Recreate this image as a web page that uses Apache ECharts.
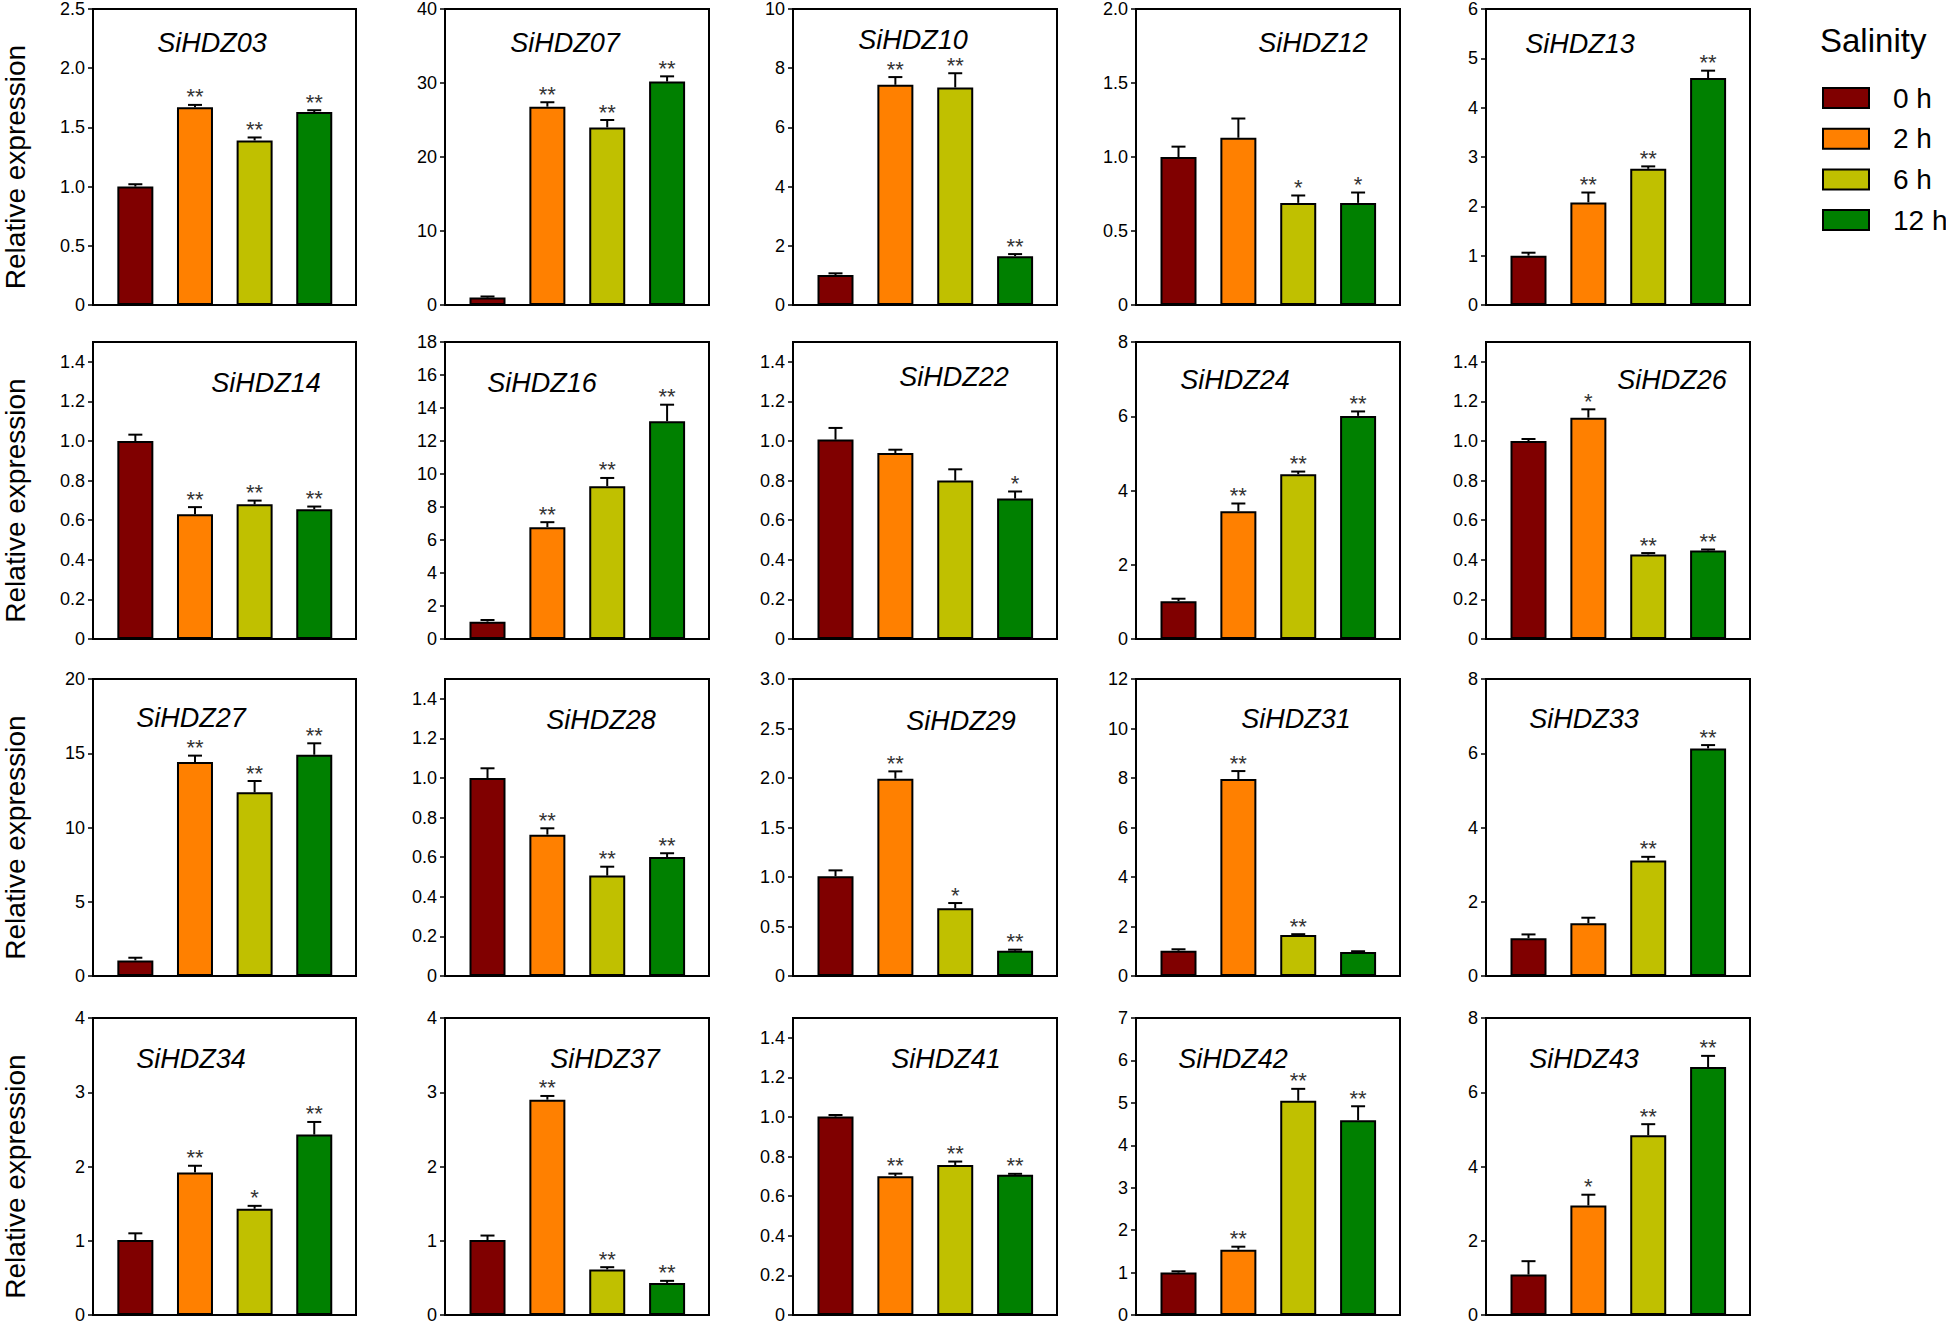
<!DOCTYPE html>
<html><head><meta charset="utf-8">
<script src="https://cdn.jsdelivr.net/npm/echarts@6/dist/echarts.min.js"></script>
<style>html,body{margin:0;padding:0;background:#fff}#c{width:1946px;height:1324px}</style>
</head><body><div id="c"></div>
<script>
// ---------- data ----------
const timePoints = ['0 h', '2 h', '6 h', '12 h'];
const genes = ['SiHDZ03','SiHDZ07','SiHDZ10','SiHDZ12','SiHDZ13',
               'SiHDZ14','SiHDZ16','SiHDZ22','SiHDZ24','SiHDZ26',
               'SiHDZ27','SiHDZ28','SiHDZ29','SiHDZ31','SiHDZ33',
               'SiHDZ34','SiHDZ37','SiHDZ41','SiHDZ42','SiHDZ43'];
const means = [
  [1.00, 1.67, 1.39, 1.63],
  [1.00, 26.8, 24.0, 30.2],
  [1.01, 7.44, 7.35, 1.65],
  [1.00, 1.13, 0.69, 0.69],
  [1.00, 2.08, 2.76, 4.60],
  [1.00, 0.63, 0.68, 0.655],
  [1.05, 6.78, 9.26, 13.2],
  [1.007, 0.939, 0.80, 0.709],
  [1.02, 3.44, 4.44, 6.01],
  [1.00, 1.118, 0.427, 0.447],
  [1.05, 14.41, 12.37, 14.9],
  [1.00, 0.714, 0.507, 0.601],
  [1.007, 1.993, 0.684, 0.256],
  [1.02, 7.96, 1.66, 0.97],
  [1.02, 1.42, 3.11, 6.13],
  [1.01, 1.92, 1.43, 2.43],
  [1.01, 2.90, 0.613, 0.432],
  [1.002, 0.701, 0.757, 0.708],
  [1.00, 1.54, 5.05, 4.59],
  [1.09, 2.95, 4.84, 6.68]
];
const errors = [
  [0.02, 0.02, 0.025, 0.015],
  [0.15, 0.6, 1.0, 0.7],
  [0.06, 0.26, 0.48, 0.07],
  [0.07, 0.13, 0.05, 0.07],
  [0.06, 0.20, 0.05, 0.15],
  [0.032, 0.036, 0.019, 0.014],
  [0.10, 0.30, 0.50, 1.0],
  [0.059, 0.017, 0.057, 0.036],
  [0.065, 0.21, 0.07, 0.12],
  [0.01, 0.042, 0.007, 0.005],
  [0.18, 0.43, 0.76, 0.77],
  [0.049, 0.032, 0.045, 0.019],
  [0.06, 0.074, 0.053, 0.01],
  [0.06, 0.32, 0.03, 0.03],
  [0.10, 0.15, 0.10, 0.09],
  [0.09, 0.09, 0.04, 0.17],
  [0.06, 0.05, 0.031, 0.028],
  [0.008, 0.013, 0.018, 0.005],
  [0.03, 0.07, 0.28, 0.33],
  [0.36, 0.29, 0.30, 0.30]
];
const signif = [
  ['', '**', '**', '**'], ['', '**', '**', '**'], ['', '**', '**', '**'], ['', '', '*', '*'], ['', '**', '**', '**'],
  ['', '**', '**', '**'], ['', '**', '**', '**'], ['', '', '', '*'], ['', '**', '**', '**'], ['', '*', '**', '**'],
  ['', '**', '**', '**'], ['', '**', '**', '**'], ['', '**', '*', '**'], ['', '**', '**', ''], ['', '', '**', '**'],
  ['', '**', '*', '**'], ['', '**', '**', '**'], ['', '**', '**', '**'], ['', '**', '**', '**'], ['', '*', '**', '**']
];
const yMax = [2.5, 40, 10, 2.0, 6,
              1.5, 18, 1.5, 8, 1.5,
              20, 1.5, 3.0, 12, 8,
              4, 4, 1.5, 7, 8];
const yInterval = [0.5, 10, 2, 0.5, 1,
                   0.2, 2, 0.2, 2, 0.2,
                   5, 0.2, 0.5, 2, 2,
                   1, 1, 0.2, 1, 2];
const legendTitle = 'Salinity';
const yAxisTitle = 'Relative expression';

// ---------- layout / style ----------
const barColors = ['#800000', '#ff8000', '#c0c000', '#008000'];
const colLeft = [92, 445, 793, 1136, 1486];
const rowTop = [8, 342, 679, 1018];
const panelW = 264, panelH = 297;
const titleCx = [120, 120, 120, 177, 94,
                 174, 97, 161, 99, 186,
                 99, 156, 168, 160, 98,
                 99, 160, 153, 97, 98];
const titleDy = [35, 35, 32, 35, 36,
                 41, 41, 35, 38, 38,
                 39, 41, 42, 40, 40,
                 41, 41, 41, 41, 41];
const FONT = '"Liberation Sans", Arial, sans-serif';

function tickValues(max, step) {
  const out = [];
  const n = Math.floor(max / step + 1e-6);
  for (let i = 0; i <= n; i++) out.push(+(i * step).toFixed(4));
  return out;
}

const grid = [], xAxis = [], yAxis = [], series = [];
const title = [{
  text: legendTitle, left: 1820, top: 24, padding: 0,
  textStyle: {fontSize: 33, fontWeight: 'normal', color: '#000', fontFamily: FONT}
}];

genes.forEach((g, p) => {
  const r = Math.floor(p / 5), c = p % 5;
  grid.push({left: colLeft[c], top: rowTop[r], width: panelW, height: panelH,
             show: true, borderColor: '#000', borderWidth: 2, containLabel: false});
  xAxis.push({gridIndex: p, type: 'value', min: -0.71, max: 3.7, show: false});
  const dec = yInterval[p] < 1 ? 1 : 0;
  const ticks = tickValues(yMax[p], yInterval[p]);
  const ya = {
    gridIndex: p, type: 'value', min: 0, max: yMax[p], interval: yInterval[p],
    axisLine: {show: true, onZero: false, lineStyle: {color: '#000', width: 2}},
    axisTick: {show: true, length: 5, inside: false, customValues: ticks,
               lineStyle: {color: '#000', width: 1.5}},
    axisLabel: {customValues: ticks, color: '#000', fontSize: 18, fontFamily: FONT, margin: 8,
                formatter: v => (v === 0 ? '0' : v.toFixed(dec))},
    splitLine: {show: false}
  };
  if (c === 0) {
    ya.name = yAxisTitle;
    ya.nameLocation = 'middle';
    ya.nameRotate = 90;
    ya.nameGap = 64;
    ya.nameTextStyle = {fontSize: 28, color: '#000', fontFamily: FONT, padding: [0, 20, 0, 0]};
  }
  yAxis.push(ya);
  title.push({
    text: g, left: colLeft[c] + titleCx[p], top: rowTop[r] + titleDy[p],
    textAlign: 'center', textVerticalAlign: 'middle', padding: 0,
    textStyle: {fontSize: 27, fontStyle: 'italic', fontWeight: 'normal', color: '#000', fontFamily: FONT,
                lineHeight: 22}
  });
  timePoints.forEach((t, k) => {
    series.push({
      type: 'bar', name: t, xAxisIndex: p, yAxisIndex: p,
      data: [[k, means[p][k]]], barWidth: 36, barGap: '-100%',
      itemStyle: {color: barColors[k], borderColor: '#000', borderWidth: 2},
      silent: true, z: 2
    });
  });
  series.push({
    type: 'custom', xAxisIndex: p, yAxisIndex: p, z: 3, silent: true,
    data: means[p].map((m, k) => [k, m, errors[p][k]]),
    renderItem: (params, api) => {
      const k = api.value(0), m = api.value(1), e = api.value(2);
      const base = api.coord([k, m]);
      const top = api.coord([k, m + e]);
      const s = signif[p][params.dataIndex];
      const children = [
        {type: 'line', shape: {x1: base[0], y1: base[1], x2: top[0], y2: top[1]},
         style: {stroke: '#000', lineWidth: 2}},
        {type: 'line', shape: {x1: top[0] - 7, y1: top[1], x2: top[0] + 7, y2: top[1]},
         style: {stroke: '#000', lineWidth: 2}}
      ];
      if (s) {
        children.push({type: 'text', x: top[0], y: top[1] - 8,
          style: {text: s, fill: '#333', font: '22px ' + FONT, lineHeight: 8,
                  align: 'center', verticalAlign: 'middle'}});
      }
      return {type: 'group', children};
    }
  });
});

const chart = echarts.init(document.getElementById('c'), null, {renderer: 'svg'});
chart.setOption({
  animation: false,
  backgroundColor: '#fff',
  title, grid, xAxis, yAxis, series,
  legend: {
    data: timePoints, orient: 'vertical', left: 1822, top: 84, padding: 0,
    itemWidth: 46, itemHeight: 20, itemGap: 12.7, icon: 'rect', selectedMode: false,
    itemStyle: {borderColor: '#000', borderWidth: 2},
    textStyle: {fontSize: 28, color: '#000', fontFamily: FONT, lineHeight: 20, padding: [0, 0, 0, 19]}
  }
});
</script></body></html>
